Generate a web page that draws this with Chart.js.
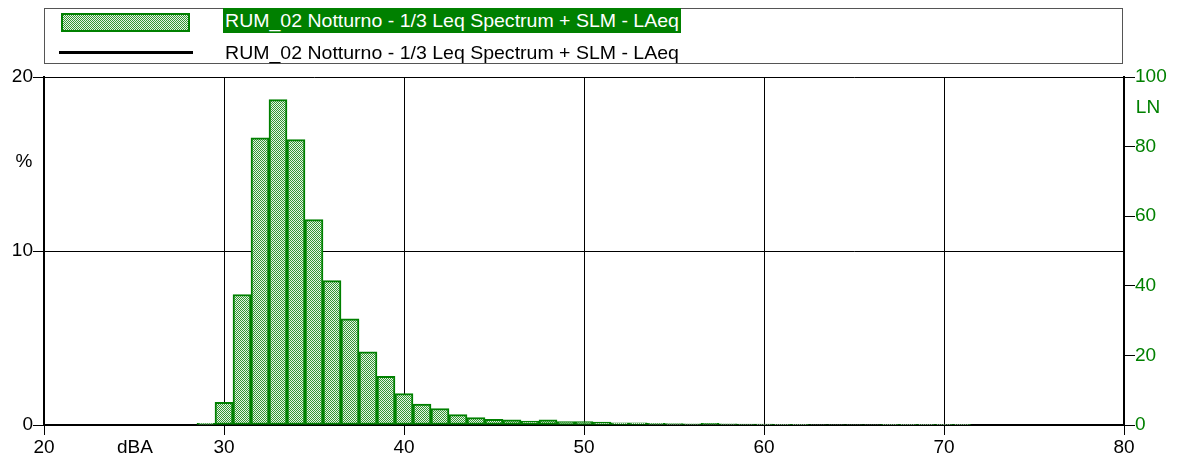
<!DOCTYPE html>
<html>
<head>
<meta charset="utf-8">
<script src="https://cdn.jsdelivr.net/npm/chart.js@4.4.1/dist/chart.umd.min.js"></script>
<style>
  body { margin: 0; background: #fff; }
  #wrap { position: relative; width: 1180px; height: 462px; }
  #legend { position: absolute; left: 44px; top: 8px; width: 1079px; height: 56px; border: 1px solid #555; background: #fff; box-sizing: border-box; }
  .patch { position: absolute; left: 16px; top: 4px; width: 129px; height: 19px; border: 2px solid #008000; box-sizing: border-box; }
  .lineKey { position: absolute; left: 14px; top: 42px; width: 134px; height: 3px; background: #000; }
  .lbl { position: absolute; left: 178px; font-family: "Liberation Sans", Arial, sans-serif; font-size: 19px; line-height: 25px; white-space: nowrap; transform-origin: left center; padding: 0 2px; }
  #lbl1 { top: -1px; background: #008000; color: #fff; }
  #lbl2 { top: 31px; color: #000; }
</style>
</head>
<body>
<div id="wrap">
  <canvas id="distChart" width="1180" height="462"></canvas>
  <div id="legend">
    <div class="patch" id="patch"></div>
    <span class="lbl" id="lbl1">RUM_02 Notturno - 1/3 Leq Spectrum + SLM - LAeq</span>
    <div class="lineKey"></div>
    <span class="lbl" id="lbl2">RUM_02 Notturno - 1/3 Leq Spectrum + SLM - LAeq</span>
  </div>
</div>
<script>
// Level classes (dBA) and share of time (%)
const levels = [29, 30, 31, 32, 33, 34, 35, 36, 37, 38, 39, 40, 41, 42, 43, 44, 45, 46, 47, 48, 49, 50,
                51, 52, 53, 54, 55, 56, 57, 58, 59, 60, 61, 62, 63, 64, 65, 66, 67, 68, 69, 70, 71];
const percents = [0.1, 1.3, 7.5, 16.5, 18.7, 16.4, 11.8, 8.3, 6.1, 4.2, 2.8, 1.8, 1.2, 0.95, 0.6, 0.42, 0.33, 0.29, 0.23, 0.29, 0.2, 0.2,
                  0.17, 0.13, 0.13, 0.1, 0.08, 0.07, 0.09, 0.07, 0.06, 0.05, 0.04, 0.04, 0.03, 0.03, 0.03, 0.03, 0.02, 0.02, 0.02, 0.02, 0.02];
const lnValues = [];   // LN curve, not plotted in the reference
const xTicks = [20, 30, 40, 50, 60, 70, 80];
const seriesName = 'RUM_02 Notturno - 1/3 Leq Spectrum + SLM - LAeq';

// checker pattern fill for the bars
function makePattern() {
    const c = document.createElement('canvas');
    c.width = 2; c.height = 2;
    const g = c.getContext('2d');
    g.fillStyle = '#e6f6e6';
    g.fillRect(0, 0, 2, 2);
    g.fillStyle = '#359535';
    g.fillRect(0, 0, 1, 1);
    g.fillRect(1, 1, 1, 1);
    return c;
}
const patCanvas = makePattern();
const ctx = document.getElementById('distChart').getContext('2d');
const barPattern = ctx.createPattern(patCanvas, 'repeat');
document.getElementById('patch').style.background = 'url(' + patCanvas.toDataURL() + ')';

// fit legend labels to the width they have in the original
['lbl1', 'lbl2'].forEach(function (id) {
    const el = document.getElementById(id);
    el.style.transform = 'scaleX(' + (458 / el.offsetWidth) + ')';
});

const axisTitles = {
    id: 'axisTitles',
    afterDraw(chart) {
        const c = chart.ctx;
        c.save();
        c.font = '19px "Liberation Sans", Arial, sans-serif';
        c.textBaseline = 'middle';
        c.textAlign = 'center';
        c.fillStyle = '#000';
        c.fillText('dBA', 135, 448);
        c.fillText('%', 24, 162);
        c.fillStyle = '#008000';
        c.fillText('LN', 1148, 108);
        c.restore();
    }
};

const tickFont = { family: '"Liberation Sans", Arial, sans-serif', size: 19 };

new Chart(ctx, {
    type: 'bar',
    data: {
        datasets: [{
            label: seriesName,
            data: levels.map((l, i) => ({ x: l, y: percents[i] })),
            backgroundColor: barPattern,
            borderColor: '#008000',
            borderWidth: 2,
            borderSkipped: false,
            barPercentage: 1,
            categoryPercentage: 1,
            xAxisID: 'x',
            yAxisID: 'y'
        }, {
            type: 'line',
            label: seriesName,
            data: lnValues,
            borderColor: '#000',
            borderWidth: 2,
            pointRadius: 0,
            yAxisID: 'y2'
        }]
    },
    options: {
        responsive: false,
        animation: false,
        layout: { padding: { top: 77, left: 0, right: 0, bottom: 0 } },
        plugins: { legend: { display: false }, tooltip: { enabled: false } },
        scales: {
            x: {
                type: 'linear',
                min: 20, max: 80,
                offset: false,
                afterBuildTicks: axis => { axis.ticks = xTicks.map(v => ({ value: v })); },
                afterFit: axis => { axis.height = 37; },
                grid: { color: '#000', lineWidth: 1, tickLength: 10, offset: false },
                border: { color: '#000', width: 2 },
                ticks: { color: '#000', font: tickFont, padding: 1, maxRotation: 0 }
            },
            y: {
                position: 'left',
                min: 0, max: 20,
                afterFit: axis => { axis.width = 44; },
                grid: { color: '#000', lineWidth: 1, tickLength: 11 },
                border: { color: '#000', width: 2 },
                ticks: { stepSize: 10, color: '#000', font: tickFont, padding: 0 }
            },
            y2: {
                position: 'right',
                min: 0, max: 100,
                afterFit: axis => { axis.width = 56; },
                grid: { drawOnChartArea: false, color: '#000', tickLength: 11 },
                border: { color: '#000', width: 2 },
                ticks: { stepSize: 20, color: '#008000', font: tickFont, padding: 0 }
            }
        }
    },
    plugins: [axisTitles]
});
</script>
</body>
</html>
